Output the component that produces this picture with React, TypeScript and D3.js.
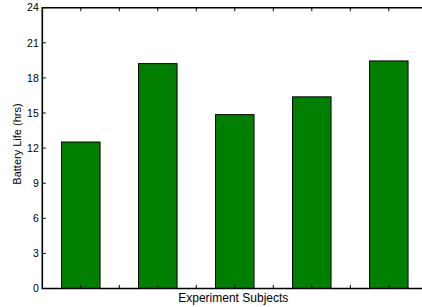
import React, { useEffect, useRef } from "react";
import * as d3 from "d3";

const subjects = [1, 2, 3, 4, 5];
const batteryHours = [12.52, 19.22, 14.86, 16.38, 19.45];
const yTicks = [0, 3, 6, 9, 12, 15, 18, 21, 24];
const xTicks = [1, 1.5, 2, 2.5, 3, 3.5, 4, 4.5, 5];

const W = 422;
const H = 307;

const App = () => {
  const ref = useRef<SVGSVGElement>(null);

  useEffect(() => {
    const svg = d3.select(ref.current);
    svg.selectAll("*").remove();

    const left = 42.3,
      top = 7.7,
      bottom = 288.5;

    // x axis runs past the right edge, like the cropped original
    const x = d3.scaleLinear().domain([0.5, 5.5]).range([left, left + 385]);
    const y = d3.scaleLinear().domain([0, 24]).range([bottom, top]);
    const font = "Liberation Sans, Arial, sans-serif";

    // bars
    svg
      .selectAll("rect.bar")
      .data(subjects)
      .enter()
      .append("rect")
      .attr("class", "bar")
      .attr("x", (d) => x(d - 0.25))
      .attr("width", (d) => x(d + 0.25) - x(d - 0.25))
      .attr("y", (d, i) => y(batteryHours[i]))
      .attr("height", (d, i) => y(0) - y(batteryHours[i]))
      .attr("fill", "#007f00")
      .attr("stroke", "#000")
      .attr("stroke-width", 1);

    // top + bottom ticks (inward)
    const tickLen = 3.5;
    xTicks.forEach((t) => {
      svg
        .append("line")
        .attr("x1", x(t))
        .attr("x2", x(t))
        .attr("y1", top)
        .attr("y2", top + tickLen)
        .attr("stroke", "#000");
      svg
        .append("line")
        .attr("x1", x(t))
        .attr("x2", x(t))
        .attr("y1", bottom)
        .attr("y2", bottom - tickLen)
        .attr("stroke", "#000");
    });

    // left ticks + labels
    yTicks.forEach((t) => {
      svg
        .append("line")
        .attr("x1", left)
        .attr("x2", left + tickLen)
        .attr("y1", y(t))
        .attr("y2", y(t))
        .attr("stroke", "#000");
      svg
        .append("text")
        .attr("x", left - 3.5)
        .attr("y", y(t))
        .attr("dy", "0.36em")
        .attr("text-anchor", "end")
        .style("font", `10.5px ${font}`)
        .text(t);
    });

    // frame
    svg
      .append("path")
      .attr("d", `M${x(5.5)},${top}H${left}V${bottom}H${x(5.5)}`)
      .attr("fill", "none")
      .attr("stroke", "#000")
      .attr("stroke-width", 1.6);

    svg
      .append("text")
      .attr("x", 233.3)
      .attr("y", 301.5)
      .attr("text-anchor", "middle")
      .style("font", `12px ${font}`)
      .text("Experiment Subjects");

    svg
      .append("text")
      .attr("transform", `translate(20.5,144) rotate(-90)`)
      .attr("text-anchor", "middle")
      .style("font", `11px ${font}`)
      .text("Battery Life (hrs)");
  }, []);

  return (
    <svg
      ref={ref}
      width={W}
      height={H}
      style={{ position: "absolute", left: 0, top: 0, background: "#fff" }}
    />
  );
};

export default App;
